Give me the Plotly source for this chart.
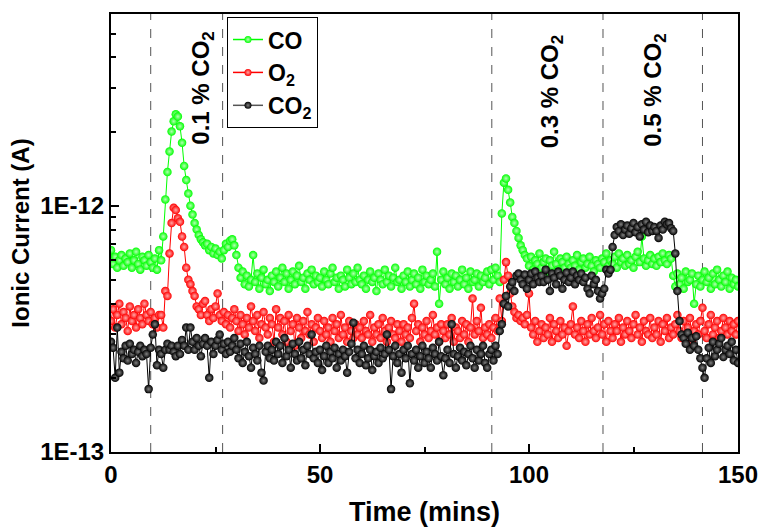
import numpy as np
import plotly.graph_objects as go

# Time axis: one sample every 0.5 min from 0 to 150 min
time_min = np.arange(0, 150.01, 0.5)

# Ionic currents in units of 1E-13 A
co_vals = [
    6.6, 5.8, 6.2, 5.6, 6.0, 6.3, 5.7, 6.1, 5.9, 6.4, 5.6, 6.0, 6.5, 5.8, 5.5, 6.2, 6.0, 5.7, 6.3, 5.9,
    5.6, 6.1, 5.5, 6.6, 6.0, 7.5, 10.6, 13.7, 16.6, 20.0, 22.0, 23.5, 23.0, 21.0, 18.0, 14.5, 12.7, 11.2, 10.0, 9.2,
    8.5, 8.0, 7.6, 7.3, 7.1, 6.9, 7.0, 6.6, 6.8, 6.4, 6.7, 6.3, 6.5, 6.1, 6.6, 7.0, 6.8, 7.2, 7.3, 6.9,
    6.3, 5.6, 5.1, 5.4, 4.8, 5.2, 4.7, 5.0, 6.3, 4.9, 5.3, 4.6, 5.1, 5.5, 4.8, 5.0, 4.5, 5.2, 4.9, 5.4,
    4.7, 5.1, 5.6, 4.9, 5.3, 4.6, 5.0, 5.4, 4.8, 5.2, 5.7, 4.9, 5.1, 4.6, 5.3, 5.0, 5.5, 4.8, 5.2, 4.9,
    5.1, 4.7, 5.4, 5.0, 4.8, 5.3, 5.6, 4.9, 5.1, 4.6, 5.2, 5.0, 4.7, 5.5, 5.1, 4.8, 5.3, 4.9, 5.6, 5.0,
    4.8, 5.2, 4.6, 5.0, 5.4, 4.9, 5.1, 4.5, 5.3, 5.0, 4.8, 5.5, 4.9, 5.2, 4.7, 5.1, 5.6, 4.9, 5.0, 4.6,
    5.2, 4.9, 5.4, 4.7, 5.0, 5.3, 4.8, 5.1, 4.6, 5.5, 4.9, 5.2, 4.8, 5.0, 5.3, 4.7, 6.5, 4.0, 5.0, 5.4,
    4.8, 5.1, 4.6, 5.3, 4.9, 5.2, 4.7, 5.0, 5.5, 4.8, 5.1, 4.6, 5.4, 4.9, 5.0, 5.3, 4.7, 5.2, 4.9, 5.1,
    5.4, 4.8, 5.5, 5.0, 5.6, 5.2, 4.9, 9.3, 12.4, 12.9, 11.6, 10.3, 9.0, 8.5, 7.9, 7.4, 6.9, 6.6, 6.3, 6.1,
    5.7, 6.2, 5.5, 6.0, 5.8, 6.4, 5.6, 5.9, 6.1, 5.4, 6.0, 5.7, 6.5, 5.8, 5.5, 6.1, 5.9, 5.6, 6.2, 5.8,
    5.6, 6.0, 5.7, 6.3, 5.5, 5.9, 6.1, 5.6, 5.8, 6.2, 5.7, 5.4, 6.0, 5.8, 5.6, 6.1, 5.9, 6.4, 5.7, 6.0,
    5.8, 6.2, 5.6, 6.4, 5.9, 6.1, 5.7, 6.3, 5.8, 6.0, 5.6, 6.2, 6.5, 5.9, 7.5, 6.1, 5.7, 6.0, 6.3, 5.8,
    6.1, 5.7, 6.2, 5.9, 6.4, 6.0, 5.8, 6.3, 6.1, 5.2, 4.7, 5.3, 4.8, 5.1, 4.6, 5.4, 4.9, 5.0, 5.3, 4.0,
    4.8, 5.2, 4.7, 5.0, 5.4, 4.9, 5.1, 4.6, 5.3, 4.8, 5.5, 5.0, 4.7, 5.2, 4.9, 5.4, 4.6, 5.1, 4.8, 5.0,
    4.7,
]

o2_vals = [
    3.4, 3.8, 3.2, 3.6, 4.0, 3.3, 3.7, 3.5, 3.1, 3.9, 3.4, 3.6, 3.2, 3.8, 3.5, 3.3, 4.0, 3.6, 3.4, 3.7,
    3.3, 3.5, 3.2, 3.6, 3.6, 3.2, 4.5, 4.3, 6.4, 8.5, 9.8, 9.6, 8.9, 8.6, 7.5, 6.8, 5.6, 5.0, 4.8, 4.5,
    4.3, 3.9, 3.8, 3.6, 4.0, 4.1, 3.6, 3.4, 3.8, 3.5, 3.9, 4.4, 3.6, 3.4, 3.7, 3.3, 3.6, 3.2, 3.5, 3.8,
    3.4, 3.1, 3.6, 3.3, 3.0, 3.5, 3.2, 3.9, 3.4, 3.1, 3.6, 2.9, 3.3, 3.7, 3.2, 3.0, 3.5, 3.3, 2.8, 3.8,
    3.2, 3.5, 3.0, 3.4, 2.8, 3.6, 3.1, 3.3, 2.7, 3.5, 3.2, 2.9, 3.4, 3.1, 3.7, 3.0, 3.3, 2.8, 3.2, 3.5,
    3.1, 2.9, 3.4, 3.0, 3.2, 2.8, 3.5, 3.1, 3.3, 2.9, 3.6, 3.0, 3.2, 2.8, 3.4, 3.1, 2.9, 3.3, 3.0, 3.2,
    2.9, 3.4, 3.1, 3.0, 3.6, 2.8, 3.2, 3.0, 3.3, 2.9, 3.5, 3.1, 2.8, 3.2, 3.4, 3.0, 2.9, 3.3, 3.1, 2.8,
    3.3, 3.0, 3.2, 2.9, 3.5, 4.0, 3.1, 3.3, 2.8, 3.2, 3.0, 3.4, 2.9, 3.1, 3.6, 3.0, 3.2, 2.8, 3.3, 3.1,
    2.9, 3.3, 3.0, 3.5, 2.8, 3.2, 3.1, 2.9, 3.4, 3.0, 3.3, 2.8, 3.2, 4.2, 3.0, 3.4, 3.1, 3.85, 2.9, 3.2,
    3.0, 3.3, 2.9, 3.2, 3.5, 3.1, 4.2, 3.4, 5.0, 5.9, 5.2, 4.4, 3.9, 3.7, 3.5, 3.6, 3.4, 3.5, 3.3, 3.6,
    4.4, 3.2, 3.0, 3.4, 2.8, 3.1, 3.3, 2.9, 3.2, 3.0, 3.5, 2.8, 3.3, 3.1, 2.9, 3.4, 3.0, 3.2, 2.7, 3.1,
    3.3, 3.9, 3.0, 3.2, 2.9, 3.4, 3.1, 2.8, 3.3, 3.0, 3.5, 3.1, 2.9, 3.2, 3.6, 3.0, 3.3, 2.8, 3.4, 3.1,
    2.9, 3.3, 3.1, 3.5, 2.8, 3.2, 3.0, 3.4, 3.1, 2.9, 3.3, 3.6, 3.0, 3.2, 2.8, 3.4, 3.1, 3.0, 3.5, 2.9,
    3.2, 3.0, 3.4, 2.8, 3.3, 3.1, 3.5, 2.9, 3.2, 3.0, 3.3, 3.6, 3.1, 2.9, 3.4, 3.0, 3.2, 3.5, 2.8, 3.1,
    3.3, 3.0, 3.4, 3.85, 3.1, 2.9, 3.3, 3.6, 3.0, 3.2, 3.4, 2.9, 3.1, 3.5, 3.2, 3.0, 3.4, 3.1, 3.3, 3.0,
    3.4,
]

co2_vals = [
    2.8, 2.65, 2.0, 3.2, 2.1, 2.55, 2.4, 2.7, 2.35, 2.75, 2.5, 2.6, 2.3, 2.55, 2.7, 2.45, 2.6, 2.5, 1.8, 2.65,
    3.0, 3.3, 2.25, 2.6, 2.5, 2.2, 2.6, 2.75, 2.6, 2.7, 2.55, 2.45, 2.7, 2.5, 2.85, 2.7, 3.2, 2.6, 3.2, 2.8,
    2.6, 2.9, 2.7, 2.45, 2.75, 2.9, 2.7, 2.0, 2.8, 2.5, 2.7, 2.85, 3.0, 2.6, 2.75, 2.5, 2.8, 2.55, 2.7, 2.9,
    2.6, 2.4, 2.75, 2.3, 2.55, 2.8, 2.45, 2.2, 2.65, 2.5, 2.35, 2.7, 2.1, 1.95, 2.55, 2.7, 2.4, 2.6, 2.35, 2.8,
    2.5, 2.7, 2.3, 2.9, 2.45, 2.6, 2.2, 2.75, 2.5, 2.35, 2.8, 2.4, 2.6, 2.25, 2.7, 2.5, 3.0, 2.4, 2.55, 2.3,
    2.6, 2.15, 2.45, 2.7, 2.3, 2.55, 2.4, 2.65, 2.2, 2.5, 2.35, 2.6, 2.45, 2.1, 2.55, 2.75, 3.35, 2.4, 2.6, 2.3,
    2.5, 2.7, 2.25, 2.4, 2.6, 2.15, 2.45, 2.55, 2.3, 2.65, 2.4, 2.5, 3.0, 2.6, 1.8, 2.45, 2.7, 2.3, 2.5, 2.1,
    2.6, 2.4, 2.7, 1.9, 2.5, 2.35, 2.6, 2.2, 2.45, 2.7, 2.3, 2.55, 2.4, 2.2, 2.65, 2.5, 2.35, 2.8, 2.45, 2.05,
    2.4, 2.6, 2.3, 3.3, 2.5, 2.2, 2.45, 2.65, 2.35, 2.55, 2.25, 2.5, 2.7, 2.4, 2.2, 2.6, 2.35, 2.5, 2.7, 2.3,
    2.2, 2.5, 2.6, 2.35, 2.7, 2.5, 3.1, 3.3, 4.0, 4.3, 3.9, 4.7, 4.9, 4.5, 5.2, 5.3, 5.0, 4.8, 5.25, 4.6,
    5.0, 5.3, 4.8, 5.4, 5.1, 4.9, 5.2, 4.9, 5.5, 5.0, 4.5, 5.3, 5.1, 4.8, 5.4, 5.2, 4.6, 5.0, 5.35, 4.9,
    5.1, 5.4, 4.8, 5.2, 5.0, 5.3, 4.9, 5.1, 4.6, 4.4, 5.2, 4.8, 5.0, 4.5, 4.2, 4.4, 4.6, 5.5, 5.3, 5.5,
    6.8, 7.6, 8.2, 7.9, 8.4, 7.6, 8.0, 8.3, 7.7, 8.1, 8.5, 7.8, 8.2, 7.5, 8.4, 8.0, 8.6, 7.8, 8.3, 7.9,
    8.2, 7.9, 7.4, 8.3, 8.0, 8.6, 8.4, 8.5, 8.1, 7.9, 6.4, 4.5, 3.4, 3.0, 2.9, 2.75, 3.05, 2.6, 2.9, 2.7,
    2.95, 2.6, 2.4, 2.2, 2.0, 2.4, 2.65, 2.3, 2.8, 2.45, 2.6, 2.75, 2.9, 2.43, 2.6, 2.7, 2.5, 2.8, 2.35, 2.6,
    2.3,
]

UNIT = 1e-13
series_names = ["CO", "O<sub>2</sub>", "CO<sub>2</sub>"]
series_vals = [co_vals, o2_vals, co2_vals]
line_colors = ["#00ff00", "#ff0000", "#000000"]
highlight_colors = ["#b4ffb4", "#ffa8a8", "#808080"]
legend_line_colors = ["#00ff00", "#ff0000", "#555555"]

# Gas switching boundaries (min) and labels
region_bounds = [9.5, 26.7, 91.1, 117.7, 141.5]
region_labels = ["0.1 % CO<sub>2</sub>", "0.3 % CO<sub>2</sub>", "0.5 % CO<sub>2</sub>"]
label_x = [21.9, 105.4, 130.1]
label_y = [3.0e-12, 2.9e-12, 2.95e-12]

x_ticks = [0, 50, 100, 150]
x_minor = [25, 75, 125]
y_ticks = [1e-13, 1e-12]
y_ticktext = ["1E-13", "1E-12"]
y_minor = [k * 1e-13 for k in range(2, 10)] + [k * 1e-12 for k in range(2, 6)]

FONT = "Liberation Sans, Arial, sans-serif"

fig = go.Figure()
for name, vals, lc, hc in zip(series_names, series_vals, line_colors, highlight_colors):
    fig.add_trace(go.Scatter(
        x=time_min, y=[v * UNIT for v in vals], mode="lines+markers", name=name,
        showlegend=False,
        line=dict(color=lc, width=1),
        marker=dict(size=8.5, color=lc, gradient=dict(type="radial", color=hc), line=dict(width=0)),
    ))
for name, lc, llc, hc in zip(series_names, line_colors, legend_line_colors, highlight_colors):
    fig.add_trace(go.Scatter(
        x=[None], y=[None], mode="lines+markers", name=name,
        line=dict(color=llc, width=1.5),
        marker=dict(size=7, color=lc, gradient=dict(type="radial", color=hc), line=dict(width=0)),
    ))

for xb in region_bounds:
    fig.add_shape(type="line", x0=xb, x1=xb, xref="x", y0=0, y1=1, yref="paper",
                  line=dict(color="#555555", width=1, dash="dash"), layer="below")

for txt, lx, ly in zip(region_labels, label_x, label_y):
    fig.add_annotation(x=lx, y=np.log10(ly), xref="x", yref="y", text=txt, textangle=-90,
                       showarrow=False, font=dict(size=24, family=FONT, color="black", weight="bold"))

fig.update_layout(
    width=760, height=527, autosize=False,
    margin=dict(l=111, r=22, t=14, b=75),
    paper_bgcolor="white", plot_bgcolor="white",
    font=dict(family=FONT, size=24, color="black", weight="bold"),
    legend=dict(x=0.185, y=0.993, xanchor="left", yanchor="top",
                bgcolor="white", bordercolor="black", borderwidth=1,
                font=dict(size=23, family=FONT, weight="bold"),
                tracegroupgap=0, itemwidth=30),
)
fig.update_xaxes(
    range=[0, 150], showgrid=False, zeroline=False, automargin=False,
    showline=True, linecolor="black", linewidth=2, mirror=True,
    ticks="inside", ticklen=8, tickwidth=2, tickcolor="black",
    tickmode="array", tickvals=x_ticks, ticktext=[str(v) for v in x_ticks],
    tickfont=dict(size=24, family=FONT, weight="bold"),
    minor=dict(tickmode="array", tickvals=x_minor, ticks="inside", ticklen=5, tickwidth=2, tickcolor="black", showgrid=False),
    title=dict(text="Time (mins)", font=dict(size=27, family=FONT, weight="bold"), standoff=16),
)
fig.update_yaxes(
    type="log", range=[-13, np.log10(6e-12)], showgrid=False, zeroline=False, automargin=False,
    showline=True, linecolor="black", linewidth=2, mirror=True,
    ticks="inside", ticklen=8, tickwidth=2, tickcolor="black",
    tickmode="array", tickvals=y_ticks, ticktext=y_ticktext,
    tickfont=dict(size=24, family=FONT, weight="bold"),
    minor=dict(tickmode="array", tickvals=y_minor, ticks="inside", ticklen=5, tickwidth=2, tickcolor="black", showgrid=False),
    title=dict(text="Ionic Current (A)", font=dict(size=24, family=FONT, weight="bold"), standoff=4),
)

# Remove the browser's default page margin so the 760x527 figure fills the window exactly
fig.write_html("out.html",
               config={"displayModeBar": False},
               post_script="document.body.style.margin='0';document.body.style.overflow='hidden';")
